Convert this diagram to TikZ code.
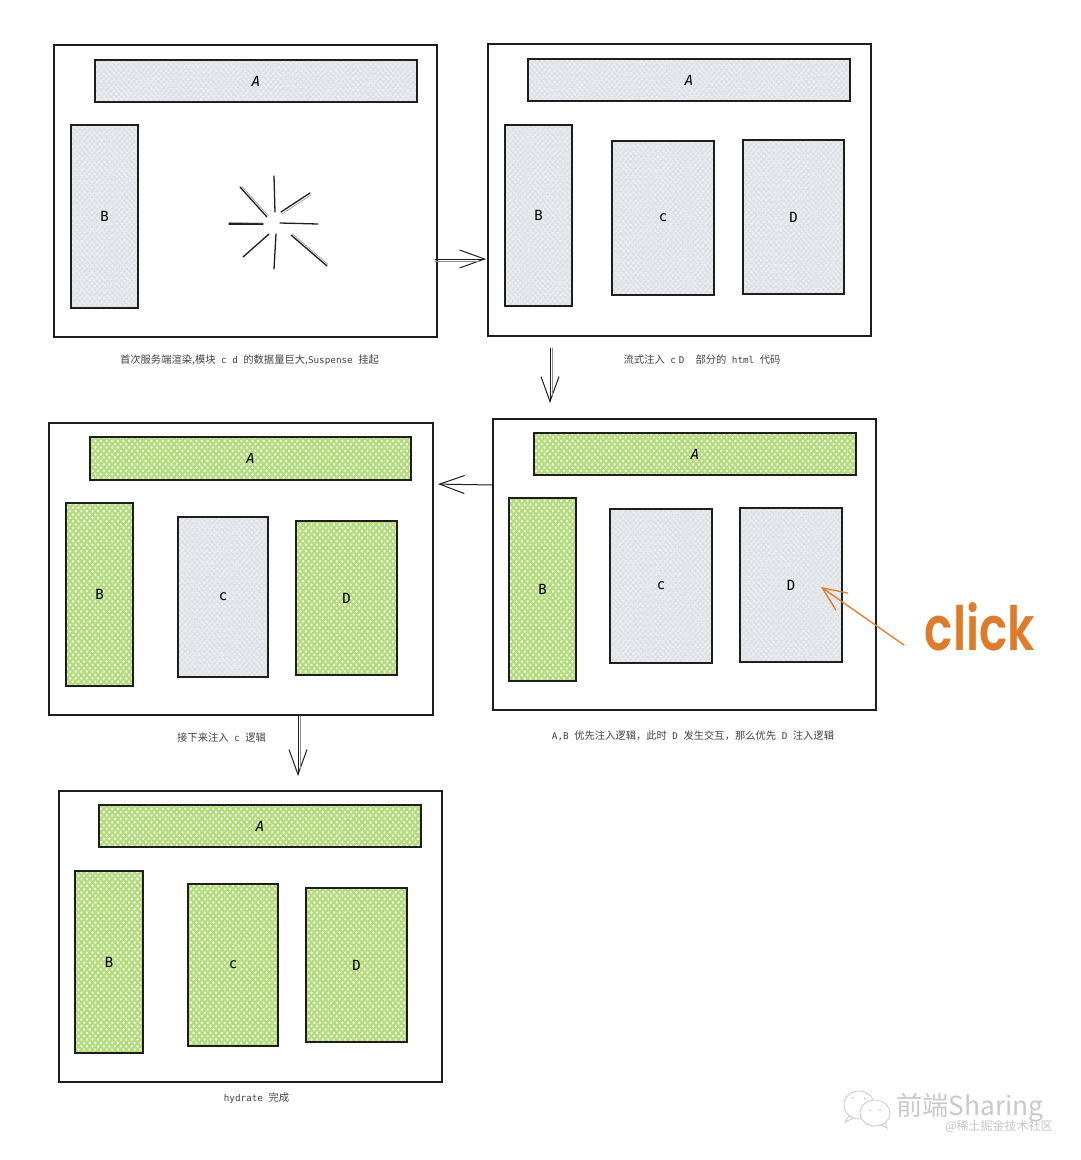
\documentclass[tikz,border=0pt]{standalone}
\usepackage{fontspec}
\setmainfont{Noto Sans CJK SC}
\newfontfamily\latf{DejaVu Sans Mono}
\newfontfamily\clickf{Poppins}[BoldFont=* SemiBold]
\usetikzlibrary{patterns.meta,arrows.meta,calc}
\definecolor{ink}{HTML}{1E1E1E}
\definecolor{grayfill}{HTML}{DDE0E5}
\definecolor{greenfill}{HTML}{F7FBEF}
\definecolor{greenline}{HTML}{B5DB7F}
\definecolor{orangec}{HTML}{DD7C2A}
\definecolor{wm}{HTML}{C9C9C9}
\tikzset{
 x=1pt,y=-1pt,
 panel/.style={draw=ink,line width=1.1pt,inner sep=0pt,outer sep=0pt},
 grayhatch/.style={draw=ink,line width=1.2pt,inner sep=0pt,outer sep=0pt,font=\latf\fontsize{14}{14}\selectfont,
   preaction={fill=grayfill},
   preaction={pattern={Lines[angle=50,distance=4pt,line width=.9pt]},pattern color=white},
   pattern={Lines[angle=-50,distance=4pt,line width=.9pt]},pattern color=white},
 greenhatch/.style={draw=ink,line width=1.2pt,inner sep=0pt,outer sep=0pt,font=\latf\fontsize{14}{14}\selectfont,
   preaction={fill=greenfill},
   preaction={pattern={Lines[angle=50,distance=4.3pt,line width=2.2pt]},pattern color=greenline},
   pattern={Lines[angle=-50,distance=4.3pt,line width=2.2pt]},pattern color=greenline},
 captext/.style={inner sep=0pt,font=\fontsize{10.3}{11}\selectfont,text=ink!85},
 sk/.style={draw=ink,line width=1pt,line cap=round},
 skhead/.style={sk,-{Straight Barb[length=25pt,width=18pt,line width=1pt]}},
 skghost/.style={draw=ink!50,line width=.6pt,line cap=round},
 burst/.style={draw=ink,line width=1.3pt,line cap=round},
}
\newcommand{\bx}[7]{\node[#6,minimum width={(#4-#2)*1pt},minimum height={(#5-#3)*1pt}] (#1) at ({(#2+#4)/2},{(#3+#5)/2}) {#7};}
\newcommand{\lt}[1]{{\latf\fontsize{9.3}{11}\selectfont #1}}
\newcommand{\gp}{\hspace{5.5pt}}
\newcommand{\lA}{\textit{A}}
\begin{document}
\begin{tikzpicture}
\useasboundingbox (0,0) rectangle (1080,1160);
% panels
\bx{p1}{54}{45}{437}{337}{panel}{}
\bx{p2}{488}{44}{871}{336}{panel}{}
\bx{p3}{493}{419}{876}{710}{panel}{}
\bx{p4}{49}{423}{433}{715}{panel}{}
\bx{p5}{59}{791}{442}{1082}{panel}{}
% panel 1
\bx{p1a}{95}{60}{417}{102}{grayhatch}{\lA}
\bx{p1b}{71}{125}{138}{308}{grayhatch}{B}
\foreach \xa/\ya/\xb/\yb in {240/187/267/217,274/176/275/212,310/193/281/212,229/224/263/224,280/223/318/224,269/234/243/257,276/234/274/269,291/235/327/266}
  \draw[burst] (\xa,\ya) -- (\xb,\yb);
\foreach \xa/\ya/\xb/\yb in {241.5/186/268.5/216,311/195/282/214,229/222.5/262/223,292.5/234/328/264.5}
  \draw[skghost] (\xa,\ya) -- (\xb,\yb);
% panel 2
\bx{p2a}{528}{59}{850}{101}{grayhatch}{\lA}
\bx{p2b}{505}{125}{572}{306}{grayhatch}{B}
\bx{p2c}{612}{141}{714}{295}{grayhatch}{c}
\bx{p2d}{743}{140}{844}{294}{grayhatch}{D}
% panel 3
\bx{p3a}{534}{433}{856}{475}{greenhatch}{\lA}
\bx{p3b}{509}{498}{576}{681}{greenhatch}{B}
\bx{p3c}{610}{509}{712}{663}{grayhatch}{c}
\bx{p3d}{740}{508}{842}{662}{grayhatch}{D}
% panel 4
\bx{p4a}{90}{437}{411}{480}{greenhatch}{\lA}
\bx{p4b}{66}{503}{133}{686}{greenhatch}{B}
\bx{p4c}{178}{517}{268}{677}{grayhatch}{c}
\bx{p4d}{296}{521}{397}{675}{greenhatch}{D}
% panel 5
\bx{p5a}{99}{805}{421}{847}{greenhatch}{\lA}
\bx{p5b}{75}{871}{143}{1053}{greenhatch}{B}
\bx{p5c}{188}{884}{278}{1046}{greenhatch}{c}
\bx{p5d}{306}{888}{407}{1042}{greenhatch}{D}
% captions
\node[captext] (c1) at (249.5,360) {首次服务端渲染,模块\gp\lt{c}\gp\lt{d}\gp 的数据量巨大,\lt{Suspense}\gp 挂起};
\node[captext] (c2) at (702,360) {流式注入\gp\lt{c}\hspace{3pt}\lt{D}\hspace{11pt}部分的\gp\lt{html}\gp 代码};
\node[captext] (c3) at (221.5,738) {接下来注入\gp\lt{c}\gp 逻辑};
\node[captext] (c4) at (693,736) {\lt{A,B}\gp 优先注入逻辑，此时\gp\lt{D}\gp 发生交互，那么优先\gp\lt{D}\gp 注入逻辑};
\node[captext] (c5) at (256.5,1098) {\lt{hydrate}\gp 完成};
% arrows
\draw[skhead,shorten >=2pt,shorten <=-2pt] ([yshift=-68pt]p1.east) -- ([yshift=-69pt]p2.west);
\draw[skghost,shorten >=8pt,shorten <=-2pt] ([yshift=-70pt]p1.east) -- ([yshift=-71pt]p2.west);
\draw[skhead,shorten <=12pt,shorten >=16pt] ([xshift=-129.5pt]p2.south) -- ([xshift=-134.5pt]p3.north);
\draw[skghost,shorten <=12pt,shorten >=24pt] ([xshift=-127.5pt]p2.south) -- ([xshift=-132.5pt]p3.north);
\draw[skhead,shorten <=1pt,shorten >=5pt] ([yshift=79.5pt]p3.west) -- ([yshift=85pt]p4.east);
\draw[skhead,shorten <=1pt,shorten >=15pt] ([xshift=57pt]p4.south) -- ([xshift=47.5pt]p5.north);
\draw[skghost,shorten <=1pt,shorten >=22pt] ([xshift=59pt]p4.south) -- ([xshift=49.5pt]p5.north);
% click
\coordinate (cs) at (904,645);
\coordinate (ct) at (821,587);
\draw[draw=orangec,line width=1.3pt,line cap=round,-{Straight Barb[length=24pt,width=21pt,line width=1.3pt]}] (cs) -- (ct);
\node[inner sep=0pt,text=orangec,font=\clickf\bfseries\fontsize{47}{47}\selectfont] (click) at (980,627) {\scalebox{1}[1.3]{click}};
% watermark
\draw[wm,line width=.8pt,fill=white] (849,1116) -- (845,1122) -- (854,1118) -- cycle;
\draw[wm,line width=.8pt,fill=white] (859,1105) ellipse [x radius=15,y radius=14];
\draw[wm,line width=.8pt,fill=white] (884,1122) -- (887,1128) -- (879,1124) -- cycle;
\draw[wm,line width=.8pt,fill=white] (875,1113) ellipse [x radius=15,y radius=13];
\fill[wm] (870,1110) circle (1) (880,1110) circle (1) (853,1098) circle (1) (865,1098) circle (1);
\node[inner sep=0pt,anchor=west,text=wm,font=\fontsize{26.3}{27}\selectfont] (wm1) at (896,1108) {前端Sharing};
\node[inner sep=0pt,text=wm!110,font=\fontsize{12}{12}\selectfont] (wm2) at (999,1126) {@稀土掘金技术社区};
\end{tikzpicture}
\end{document}
